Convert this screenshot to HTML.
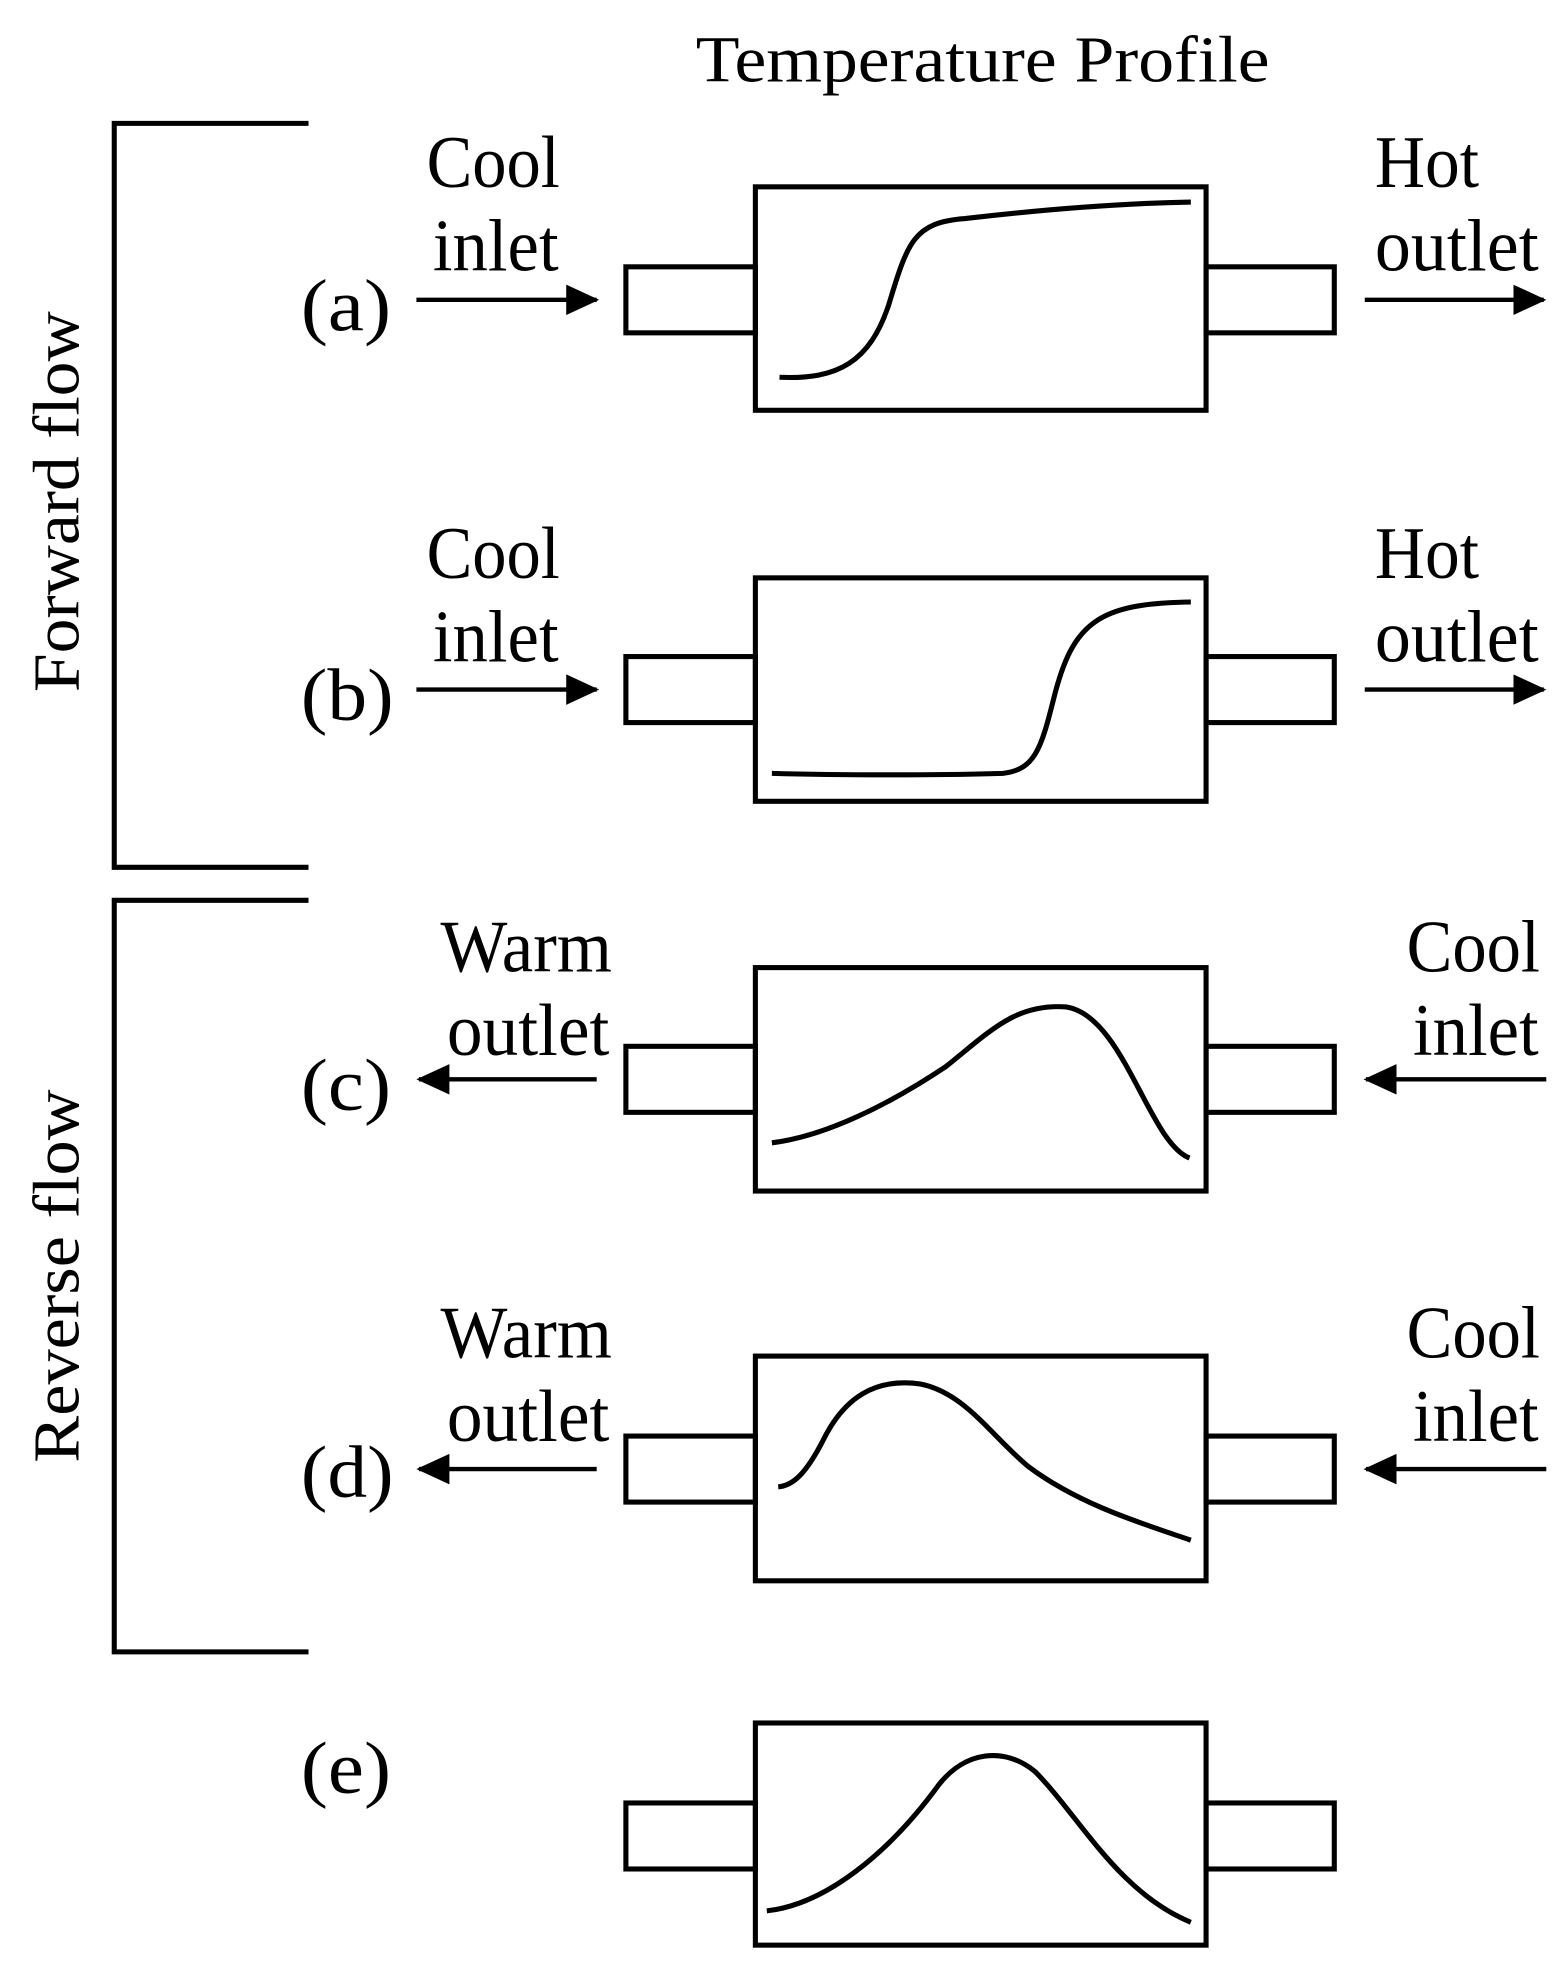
<!DOCTYPE html>
<html><head><style>html,body{margin:0;padding:0;background:#fff}svg{display:block}</style></head>
<body>
<svg width="1559" height="1986" viewBox="0 0 1228 1564" xmlns="http://www.w3.org/2000/svg">
<defs><marker id="ah" markerWidth="26" markerHeight="24" refX="24" refY="12" orient="auto" markerUnits="userSpaceOnUse" viewBox="0 0 26 24"><path d="M0,0 L26,12 L0,24 z" fill="#000"/></marker></defs>
<g font-family="'Liberation Serif', serif" font-size="58" fill="#000">
<text x="548" y="64" font-size="52" textLength="452" lengthAdjust="spacingAndGlyphs">Temperature Profile</text>
<text x="62" y="395" text-anchor="middle" transform="rotate(-90 62 395)" font-size="52" textLength="300" lengthAdjust="spacingAndGlyphs">Forward flow</text>
<text x="62" y="1005" text-anchor="middle" transform="rotate(-90 62 1005)" font-size="52" textLength="294" lengthAdjust="spacingAndGlyphs">Reverse flow</text>
<text x="237" y="260" textLength="71" lengthAdjust="spacingAndGlyphs">(a)</text>
<text x="237" y="567" textLength="73" lengthAdjust="spacingAndGlyphs">(b)</text>
<text x="237" y="874" textLength="71" lengthAdjust="spacingAndGlyphs">(c)</text>
<text x="237" y="1179" textLength="73" lengthAdjust="spacingAndGlyphs">(d)</text>
<text x="237" y="1412" textLength="71" lengthAdjust="spacingAndGlyphs">(e)</text>
<text x="336" y="147" textLength="105" lengthAdjust="spacingAndGlyphs">Cool</text><text x="341" y="213" textLength="99" lengthAdjust="spacingAndGlyphs">inlet</text>
<text x="336" y="455" textLength="105" lengthAdjust="spacingAndGlyphs">Cool</text><text x="341" y="521" textLength="99" lengthAdjust="spacingAndGlyphs">inlet</text>
<text x="1083" y="147" textLength="82" lengthAdjust="spacingAndGlyphs">Hot</text><text x="1083" y="213" textLength="129" lengthAdjust="spacingAndGlyphs">outlet</text>
<text x="1083" y="455" textLength="82" lengthAdjust="spacingAndGlyphs">Hot</text><text x="1083" y="521" textLength="129" lengthAdjust="spacingAndGlyphs">outlet</text>
<text x="347" y="765" textLength="135" lengthAdjust="spacingAndGlyphs">Warm</text><text x="352" y="831" textLength="128" lengthAdjust="spacingAndGlyphs">outlet</text>
<text x="347" y="1069" textLength="135" lengthAdjust="spacingAndGlyphs">Warm</text><text x="352" y="1135" textLength="128" lengthAdjust="spacingAndGlyphs">outlet</text>
<text x="1108" y="765" textLength="105" lengthAdjust="spacingAndGlyphs">Cool</text><text x="1113" y="831" textLength="99" lengthAdjust="spacingAndGlyphs">inlet</text>
<text x="1108" y="1069" textLength="105" lengthAdjust="spacingAndGlyphs">Cool</text><text x="1113" y="1135" textLength="99" lengthAdjust="spacingAndGlyphs">inlet</text>
</g>
<g fill="none" stroke="#000" stroke-width="4">
<polyline points="243,97 90,97 90,683 243,683"/>
<polyline points="243,709 90,709 90,1301 243,1301"/>
<rect x="595" y="147" width="355" height="176"/><rect x="493" y="210" width="102" height="52"/><rect x="950" y="210" width="101" height="52"/>
<rect x="595" y="455" width="355" height="176"/><rect x="493" y="517" width="102" height="52"/><rect x="950" y="517" width="101" height="52"/>
<rect x="595" y="762" width="355" height="176"/><rect x="493" y="824" width="102" height="52"/><rect x="950" y="824" width="101" height="52"/>
<rect x="595" y="1068" width="355" height="177"/><rect x="493" y="1131" width="102" height="52"/><rect x="950" y="1131" width="101" height="52"/>
<rect x="595" y="1357" width="355" height="175"/><rect x="493" y="1420" width="102" height="52"/><rect x="950" y="1420" width="101" height="52"/>
<g stroke-width="3.5" marker-end="url(#ah)">
<line x1="328" y1="236" x2="470" y2="236"/><line x1="1075" y1="236" x2="1216" y2="236"/>
<line x1="328" y1="543" x2="470" y2="543"/><line x1="1075" y1="543" x2="1216" y2="543"/>
<line x1="470" y1="850" x2="330" y2="850"/><line x1="1218" y1="850" x2="1076" y2="850"/>
<line x1="470" y1="1157" x2="330" y2="1157"/><line x1="1218" y1="1157" x2="1076" y2="1157"/>
</g>
<path d="M614,297 C660,299 685,285 700,240 C715,190 720,175 760,172 C820,165 880,160 938,159"/>
<path d="M608,609 C680,611 760,610 790,609 C815,606 820,590 830,550 C845,490 865,475 938,474"/>
<path d="M608,900 C650,895 700,870 745,840 C780,812 800,790 840,793 C885,800 905,900 937,912"/>
<path d="M613,1171 C625,1170 635,1160 648,1135 C665,1100 690,1085 725,1090 C760,1097 780,1130 810,1155 C850,1185 900,1200 938,1213"/>
<path d="M604,1505 C650,1500 700,1460 740,1405 C760,1380 790,1375 815,1395 C850,1430 880,1490 938,1514"/>
</g>
</svg>
</body></html>
